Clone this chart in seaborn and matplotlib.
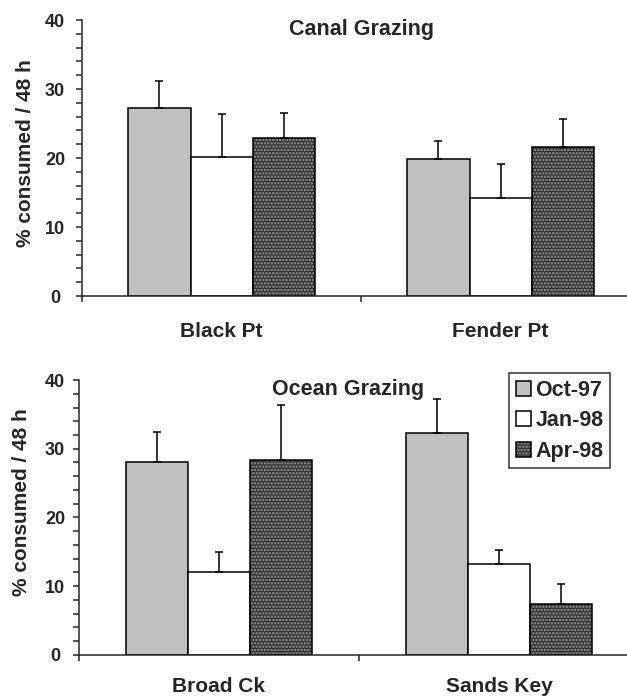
import numpy as np
import pandas as pd
import matplotlib
matplotlib.use('Agg')
import matplotlib.pyplot as plt
import matplotlib.colors as mcolors
from matplotlib.ticker import MultipleLocator
import seaborn as sns

months = ['Oct-97', 'Jan-98', 'Apr-98']
canal_sites = ['Black Pt', 'Fender Pt']
ocean_sites = ['Broad Ck', 'Sands Key']

# rows = sites, cols = months
canal_mean = [[27.2, 20.2, 22.9], [19.9, 14.2, 21.6]]
canal_se = [[3.9, 6.2, 3.6], [2.6, 5.0, 4.1]]
ocean_mean = [[28.0, 12.1, 28.4], [32.3, 13.3, 7.4]]
ocean_se = [[4.5, 2.9, 7.9], [4.9, 2.0, 2.9]]

bar_colors = ['#c0c0c0', '#ffffff', '#303030']

sns.set_style('ticks')
plt.rcParams['font.family'] = ['Liberation Sans', 'DejaVu Sans']
plt.rcParams['font.weight'] = 'bold'
plt.rcParams['hatch.linewidth'] = 1.2


def draw_panel(ax, sites, means, ses, title, title_x, label_pad, ylab_y, ytick_pad):
    df = pd.DataFrame({
        'site': np.repeat(sites, len(months)),
        'month': months * len(sites),
        'value': np.ravel(means),
    })
    sns.barplot(data=df, x='site', y='value', hue='month', hue_order=months,
                palette=bar_colors, saturation=1, width=0.667, edgecolor='black',
                linewidth=1.1, errorbar=None, legend=False, ax=ax)
    bars = list(ax.containers)

    # upper error bars only
    for cont, hue_se in zip(bars, np.array(ses).T):
        xs = [b.get_x() + b.get_width() / 2 for b in cont]
        hs = [b.get_height() for b in cont]
        ax.errorbar(xs, hs, yerr=[np.zeros_like(hue_se), hue_se], fmt='none',
                    ecolor='black', elinewidth=1.1, capsize=2.6, capthick=1.1, zorder=1)

    # dotted fill for Apr-98
    for b in bars[2]:
        b.set_hatch('.....')
        b._hatch_color = mcolors.to_rgba('#9a9a9a')

    ax.set_xlim(-0.5, 1.5)
    ax.set_ylim(0, 40)
    ax.yaxis.set_major_locator(MultipleLocator(10))
    ax.yaxis.set_minor_locator(MultipleLocator(2))
    ax.tick_params(axis='y', which='both', direction='out', length=4.5, width=1.1,
                   labelsize=13, pad=ytick_pad)
    ax.set_xticks([-0.5, 0.5], labels=['', ''])
    ax.set_xticks([0, 1], labels=sites, minor=True)
    ax.tick_params(axis='x', which='major', direction='out', length=4.5, width=1.1)
    ax.tick_params(axis='x', which='minor', length=0, labelsize=15, pad=label_pad)
    for lab in ax.get_yticklabels():
        lab.set_fontweight('bold')
        lab.set_horizontalalignment('center')
    for lab in ax.get_xticklabels(minor=True):
        lab.set_fontweight('bold')

    ax.set_xlabel('')
    ax.set_ylabel('% consumed / 48 h', fontsize=15, fontweight='bold')
    ax.yaxis.set_label_coords(-0.085, ylab_y)
    ax.spines['top'].set_visible(False)
    ax.spines['right'].set_visible(False)
    for s in ['left', 'bottom']:
        ax.spines[s].set_linewidth(1.1)

    ax.text(title_x, 37.8, title, ha='center', va='baseline', fontsize=15.5,
            fontweight='bold')
    return bars


fig = plt.figure(figsize=(6.27, 6.97), dpi=100)
ax_top = fig.add_axes([0.1308, 0.5753, 0.89, 0.396])
ax_bot = fig.add_axes([0.126, 0.0603, 0.893, 0.3945])

draw_panel(ax_top, canal_sites, canal_mean, canal_se, 'Canal Grazing', 0.5, 19, 0.518, 14.9)
bot_bars = draw_panel(ax_bot, ocean_sites, ocean_mean, ocean_se, 'Ocean Grazing', 0.46, 16, 0.556, 12.8)

handles = [cont.patches[0] for cont in bot_bars]
leg = ax_bot.legend(handles, months, loc='upper right', bbox_to_anchor=(0.948, 1.025),
                    borderaxespad=0, frameon=True, fancybox=False,
                    prop={'weight': 'bold', 'size': 15.5}, handlelength=0.7,
                    handleheight=0.7, handletextpad=0.2, labelspacing=0.45,
                    borderpad=0.3)
leg.get_frame().set_edgecolor('black')
leg.get_frame().set_linewidth(1.1)

fig.savefig('out.png', dpi=100)
